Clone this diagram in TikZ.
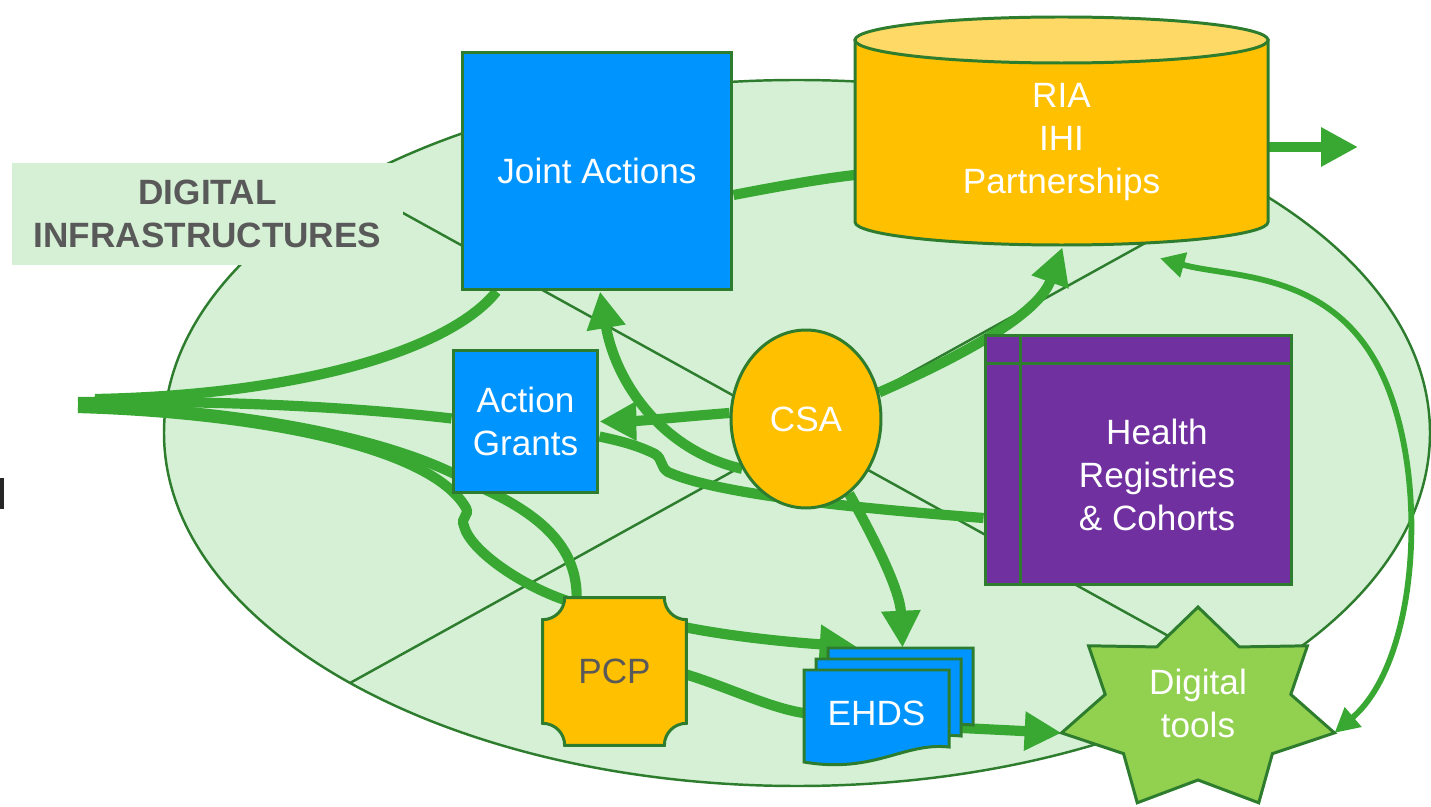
\documentclass[tikz,border=0pt]{standalone}
\usepackage{fontspec}
\setmainfont{Liberation Sans}
\usetikzlibrary{shapes.geometric,calc,arrows.meta,backgrounds}

\definecolor{ellfill}{RGB}{213,240,213}
\definecolor{darkgreen}{RGB}{46,125,46}
\definecolor{flowgreen}{RGB}{56,168,50}
\definecolor{jablue}{RGB}{0,148,255}
\definecolor{amber}{RGB}{255,192,0}
\definecolor{paleamber}{RGB}{255,217,102}
\definecolor{regpurple}{RGB}{112,48,160}
\definecolor{toolgreen}{RGB}{146,208,80}
\definecolor{textgray}{RGB}{89,89,89}

\begin{document}
\begin{tikzpicture}[x=0.02cm, y=-0.02cm]
  \tikzstyle{txt} = [font=\fontsize{20}{24.5}\selectfont, align=center, inner sep=0pt, text=white]
  \tikzstyle{box} = [txt, rectangle, draw=darkgreen, line width=1.7pt]
  \tikzstyle{edge} = [darkgreen, line width=1.7pt]
  \tikzstyle{chord} = [darkgreen, line width=1.4pt]
  \tikzstyle{flow} = [flowgreen, line width=5.8pt]
  \tikzstyle{flowarrow} = [flow, -{Triangle[length=21pt,width=21pt]}]
  \tikzstyle{thinflow} = [flowgreen, line width=3.3pt, {Triangle[length=14pt,width=14pt]}-{Triangle[length=14pt,width=14pt]}]

  \useasboundingbox (0,0) rectangle (1431,807);
  \fill[black!85] (0,478) rectangle (4,509);

  \coordinate (src) at (78,404);
  \coordinate (out) at (1358,147);
  \coordinate (dtc) at (1198,710);

  \node (ja) [box, fill=jablue, minimum width=5.4cm, minimum height=4.76cm] at (597,171) {Joint Actions};
  \node (ag) [box, fill=jablue, minimum width=2.9cm, minimum height=2.86cm] at (525.5,421.5) {Action\\Grants};
  \node (csa) [box, ellipse, fill=amber, minimum width=3cm, minimum height=3.56cm] at (806,419) {CSA};

  % registries (window shape)
  \node (hr) [box, fill=regpurple, minimum width=6.14cm, minimum height=5cm] at (1138.5,460) {};
  \draw[edge] ($(hr.north west)+(37,0)$) -- ($(hr.south west)+(37,0)$);
  \draw[edge] ($(hr.north west)+(0,30)$) -- ($(hr.north east)+(0,30)$);
  \node (hrtext) [txt] at ($(hr)+(18.5,15)$) {Health\\Registries\\\& Cohorts};

  % pcp with cut corners
  \node (pcp) [minimum width=2.86cm, minimum height=2.94cm, inner sep=0pt] at (614.5,671.5) {};
  \draw[edge, fill=amber] ($(pcp.north west)+(22,0)$) -- ($(pcp.north east)+(-22,0)$)
    arc[start angle=180, end angle=90, radius=22] -- ($(pcp.south east)+(0,-22)$)
    arc[start angle=270, end angle=180, radius=22] -- ($(pcp.south west)+(22,0)$)
    arc[start angle=0, end angle=-90, radius=22] -- ($(pcp.north west)+(0,22)$)
    arc[start angle=90, end angle=0, radius=22] -- cycle;
  \node (pcptext) [txt, text=textgray] at (pcp) {PCP};

  % cylinder
  \draw[edge, fill=amber] (855,40) -- (855,222) arc[start angle=180, end angle=0, x radius=206.5, y radius=23] -- (1268,40) -- cycle;
  \draw[edge, fill=paleamber] (1061.5,40) ellipse[x radius=206.5, y radius=23];
  \node (ria) [txt, minimum width=8.26cm, minimum height=4.12cm] at (1061.5,142) {RIA\\IHI\\Partnerships};

  % documents
  \foreach \dx/\dy in {24/-22,12/-11,0/0}
    \draw[edge, fill=jablue, shift={(\dx,\dy)}] (804,670) -- ++(145,0) -- ++(0,77)
      .. controls +(-45,-5) and +(70,12) .. ++(-145,15) -- cycle;
  \node (ehds) [txt, minimum width=2.9cm, minimum height=1.72cm] at (876.5,713) {EHDS};

  % star
  \draw[edge, fill=toolgreen, shift={(dtc)}] (270:140 and 103)
    \foreach \k in {0,...,5} { -- ({270+(2*\k+1)*180/7}:95.2 and 70) -- ({270+(2*\k+2)*180/7}:140 and 103) }
    -- ({270+13*180/7}:95.2 and 70) -- cycle;
  \node (dt) [txt] at (1198,703) {Digital\\tools};

  \begin{pgfonlayer}{background}
    \draw[edge, line width=1.4pt, fill=ellfill] (797,433) ellipse[x radius=633, y radius=353];
    \draw[chord] (349.5,183.4) -- (1248,680);
    \draw[chord] (350,683) -- (1249,185.6);
    \node (infra) [txt, fill=ellfill, text=textgray, font=\fontsize{20}{24.5}\selectfont\bfseries, minimum width=7.82cm, minimum height=2.04cm] at (207.5,214) {DIGITAL\\INFRASTRUCTURES};

    % from the left
    \draw[flow] ($(src)+(17,-5)$) .. controls (300,395) and (450,350) .. ($(ja.south west)+(36,0)$);
    \draw[flow] ($(src)+(0,-2)$) .. controls (250,400) and (380,410) .. ($(ag.west)+(0,-3)$);
    \draw[flow] ($(src)+(0,1)$) .. controls (250,410) and (400,440) .. (475,485)
      .. controls (545,515) and (577,550) .. ($(pcp.north west)+(34,0)$);
    \draw[flow] ($(src)+(0,4)$) .. controls (250,413) and (430,445) .. (466,508)
      .. controls (470,516) and (460,517) .. (464,526)
      .. controls (470,550) and (520,585) .. ($(pcp.north west)+(24,3)$);

    % pcp and ehds
    \draw[flowarrow] ($(pcp.east)+(0,-44)$) .. controls (740,638) and (800,643) .. ($(ehds.north west)+(53,-23)$);
    \draw[flow] ($(pcp.east)+(0,3)$) .. controls (730,688) and (770,708) .. (ehds.west);
    \draw[flowarrow] ($(ehds.east)+(12,15)$) -- ($(dtc)+(167.14:140 and 103)$);

    % csa
    \draw[flowarrow] ($(csa.west)+(0,-6)$) .. controls (690,416) and (640,421) .. (ag.east);
    \draw[flowarrow] (csa.218) .. controls (660,450) and (615,380) .. ($(ja.south)+(3,0)$);
    \draw[flowarrow] (csa.20) .. controls (980,348) and (1040,310) .. ($(ria.south)+(1,2)$);
    \draw[flowarrow] (csa.300) .. controls (875,540) and (900,590) .. ($(ehds.north)+(26,-22)$);

    % registries to grants
    \draw[flow] ($(hr.west)+(0,58)$) .. controls (880,510) and (720,496) .. (668,472)
      .. controls (660,467) and (663,459) .. (655,454)
      .. controls (635,444) and (615,440) .. ($(ag.east)+(0,15)$);

    % top row
    \draw[flow] ($(ja.east)+(0,24)$) .. controls (780,186) and (820,179) .. ($(ria.west)+(0,33)$);
    \draw[flowarrow] ($(ria.east)+(0,5)$) -- (out);
    \draw[thinflow] ($(ria.south)+(98.5,13)$) .. controls (1230,278) and (1330,270) .. (1380,370)
      .. controls (1430,470) and (1420,660) .. ($(dtc)+(12.86:140 and 103)$);
  \end{pgfonlayer}
\end{tikzpicture}
\end{document}
